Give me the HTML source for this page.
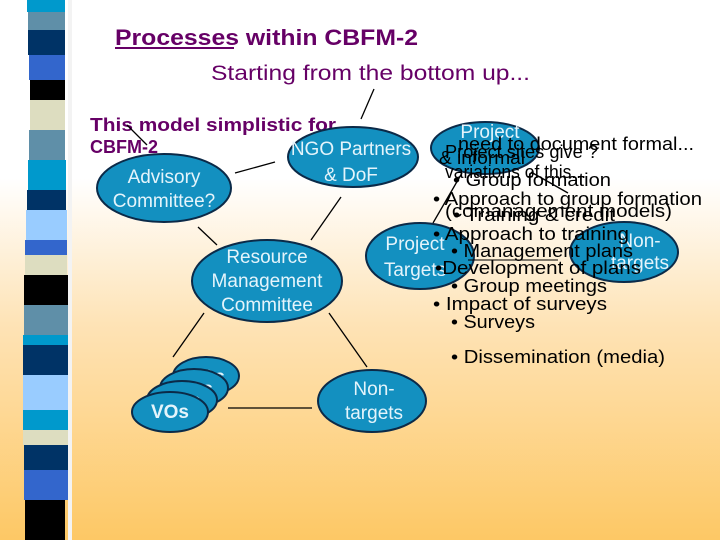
<!DOCTYPE html>
<html><head><meta charset="utf-8"><style>
html,body{margin:0;padding:0;width:720px;height:540px;overflow:hidden}
svg{display:block}
.e{fill:#1390c0;stroke:#0b2a48;stroke-width:2}
.w{fill:#e4f4fb;font-family:"Liberation Sans",sans-serif;font-size:19px;text-anchor:middle}
.b{fill:#000;font-family:"Liberation Sans",sans-serif;font-size:18px}
.l{stroke:#000;stroke-width:1.3}
</style></head><body>
<svg width="720" height="540" xmlns="http://www.w3.org/2000/svg">
<defs><linearGradient id="g" x1="0" y1="0" x2="0" y2="1">
<stop offset="0" stop-color="#fff"/><stop offset="0.33" stop-color="#fff"/>
<stop offset="0.6" stop-color="#fee3b6"/><stop offset="1" stop-color="#fdc865"/></linearGradient></defs>
<rect width="720" height="540" fill="url(#g)"/>
<rect x="68" y="0" width="4" height="540" fill="#f3f3f3"/>
<g>
<rect x="27" y="0" width="38" height="12" fill="#0099cc"/>
<rect x="28" y="12" width="37" height="18" fill="#5f8fa8"/>
<rect x="28" y="30" width="37" height="25" fill="#003366"/>
<rect x="29" y="55" width="36" height="25" fill="#3366cc"/>
<rect x="30" y="80" width="35" height="20" fill="#000"/>
<rect x="30" y="100" width="35" height="30" fill="#ddddc0"/>
<rect x="29" y="130" width="36" height="30" fill="#5f8fa8"/>
<rect x="28" y="160" width="38" height="30" fill="#0099cc"/>
<rect x="27" y="190" width="39" height="20" fill="#003366"/>
<rect x="26" y="210" width="41" height="30" fill="#99ccff"/>
<rect x="25" y="240" width="42" height="15" fill="#3366cc"/>
<rect x="25" y="255" width="42" height="20" fill="#ddddc0"/>
<rect x="24" y="275" width="44" height="30" fill="#000"/>
<rect x="24" y="305" width="44" height="30" fill="#5f8fa8"/>
<rect x="23" y="335" width="45" height="10" fill="#0099cc"/>
<rect x="23" y="345" width="45" height="30" fill="#003366"/>
<rect x="23" y="375" width="45" height="35" fill="#99ccff"/>
<rect x="23" y="410" width="45" height="20" fill="#0099cc"/>
<rect x="23" y="430" width="45" height="15" fill="#ddddc0"/>
<rect x="24" y="445" width="44" height="25" fill="#003366"/>
<rect x="24" y="470" width="44" height="30" fill="#3366cc"/>
<rect x="25" y="500" width="40" height="40" fill="#000"/>
</g>
<text x="115" y="45" font-family="Liberation Sans,sans-serif" font-weight="bold" font-size="22" fill="#660066" textLength="303" lengthAdjust="spacingAndGlyphs">Processes within CBFM-2</text>
<line x1="115" y1="48" x2="234" y2="48" stroke="#660066" stroke-width="2"/>
<text x="211" y="80" font-family="Liberation Sans,sans-serif" font-size="21" fill="#660066" textLength="319" lengthAdjust="spacingAndGlyphs">Starting from the bottom up...</text>
<text x="90" y="131" font-family="Liberation Sans,sans-serif" font-weight="bold" font-size="18" fill="#660066" textLength="246" lengthAdjust="spacingAndGlyphs">This model simplistic for</text>
<text x="90" y="153" font-family="Liberation Sans,sans-serif" font-weight="bold" font-size="18" fill="#660066">CBFM-2</text>
<g class="l">
<line x1="374" y1="89" x2="361" y2="119"/>
<line x1="127" y1="125" x2="147" y2="145"/>
<line x1="235" y1="173" x2="275" y2="162"/>
<line x1="341" y1="197" x2="311" y2="240"/>
<line x1="198" y1="227" x2="217" y2="245"/>
<line x1="204" y1="313" x2="173" y2="357"/>
<line x1="329" y1="313" x2="367" y2="367"/>
<line x1="228" y1="408" x2="312" y2="408"/>
<line x1="433" y1="223" x2="462" y2="173"/>
<line x1="531" y1="172" x2="568" y2="193"/>
</g>
<ellipse class="e" cx="164" cy="188" rx="67" ry="34"/>
<text class="w" x="164" y="183">Advisory</text><text class="w" x="164" y="207">Committee?</text>
<ellipse class="e" cx="353" cy="157" rx="65" ry="30"/>
<text class="w" x="351" y="155">NGO Partners</text><text class="w" x="351" y="181">&amp; DoF</text>
<ellipse class="e" cx="485" cy="148" rx="54" ry="26"/>
<text class="w" x="490" y="138">Project</text>
<ellipse class="e" cx="267" cy="281" rx="75" ry="41"/>
<text class="w" x="267" y="263">Resource</text><text class="w" x="267" y="287">Management</text><text class="w" x="267" y="311">Committee</text>
<ellipse class="e" cx="420" cy="256" rx="54" ry="33"/>
<text class="w" x="415" y="250">Project</text><text class="w" x="415" y="276">Targets</text>
<ellipse class="e" cx="624" cy="252" rx="54" ry="30"/>
<text class="w" x="640" y="247">Non-</text><text class="w" x="640" y="269">targets</text>
<ellipse class="e" cx="372" cy="401" rx="54" ry="31"/>
<text class="w" x="374" y="395">Non-</text><text class="w" x="374" y="419">targets</text>
<ellipse class="e" cx="206" cy="376" rx="33" ry="19"/>
<text class="w" x="206" y="383" font-weight="bold">VOs</text>
<ellipse class="e" cx="194" cy="388" rx="34" ry="19"/>
<text class="w" x="194" y="395" font-weight="bold">VOs</text>
<ellipse class="e" cx="182" cy="400" rx="35" ry="19"/>
<text class="w" x="182" y="407" font-weight="bold">VOs</text>
<ellipse class="e" cx="170" cy="412" rx="38" ry="20"/>
<text class="w" x="170" y="418" font-weight="bold">VOs</text>
<text class="b" x="458" y="150" textLength="236" lengthAdjust="spacingAndGlyphs">need to document formal...</text>
<text class="b" x="445" y="158" textLength="153" lengthAdjust="spacingAndGlyphs">Project sites give ?</text>
<text class="b" x="439" y="164" textLength="86" lengthAdjust="spacingAndGlyphs">&amp; informal</text>
<text class="b" x="445" y="178" textLength="141" lengthAdjust="spacingAndGlyphs">variations of this...</text>
<text class="b" x="453" y="186" textLength="158" lengthAdjust="spacingAndGlyphs">• Group formation</text>
<text class="b" x="433" y="205" textLength="269" lengthAdjust="spacingAndGlyphs">• Approach to group formation</text>
<text class="b" x="445" y="217" textLength="227" lengthAdjust="spacingAndGlyphs">(comanagement models)</text>
<text class="b" x="453" y="221" textLength="162" lengthAdjust="spacingAndGlyphs">• Training &amp; credit</text>
<text class="b" x="433" y="240" textLength="196" lengthAdjust="spacingAndGlyphs">• Approach to training</text>
<text class="b" x="451" y="257" textLength="182" lengthAdjust="spacingAndGlyphs">• Management plans</text>
<line x1="468" y1="260" x2="558" y2="260" stroke="#000" stroke-width="1"/>
<text class="b" x="435" y="274" textLength="206" lengthAdjust="spacingAndGlyphs">•Development of plans</text>
<text class="b" x="451" y="292" textLength="156" lengthAdjust="spacingAndGlyphs">• Group meetings</text>
<text class="b" x="433" y="310" textLength="174" lengthAdjust="spacingAndGlyphs">• Impact of surveys</text>
<text class="b" x="451" y="328" textLength="84" lengthAdjust="spacingAndGlyphs">• Surveys</text>
<text class="b" x="451" y="363" textLength="214" lengthAdjust="spacingAndGlyphs">• Dissemination (media)</text>
</svg>
</body></html>
